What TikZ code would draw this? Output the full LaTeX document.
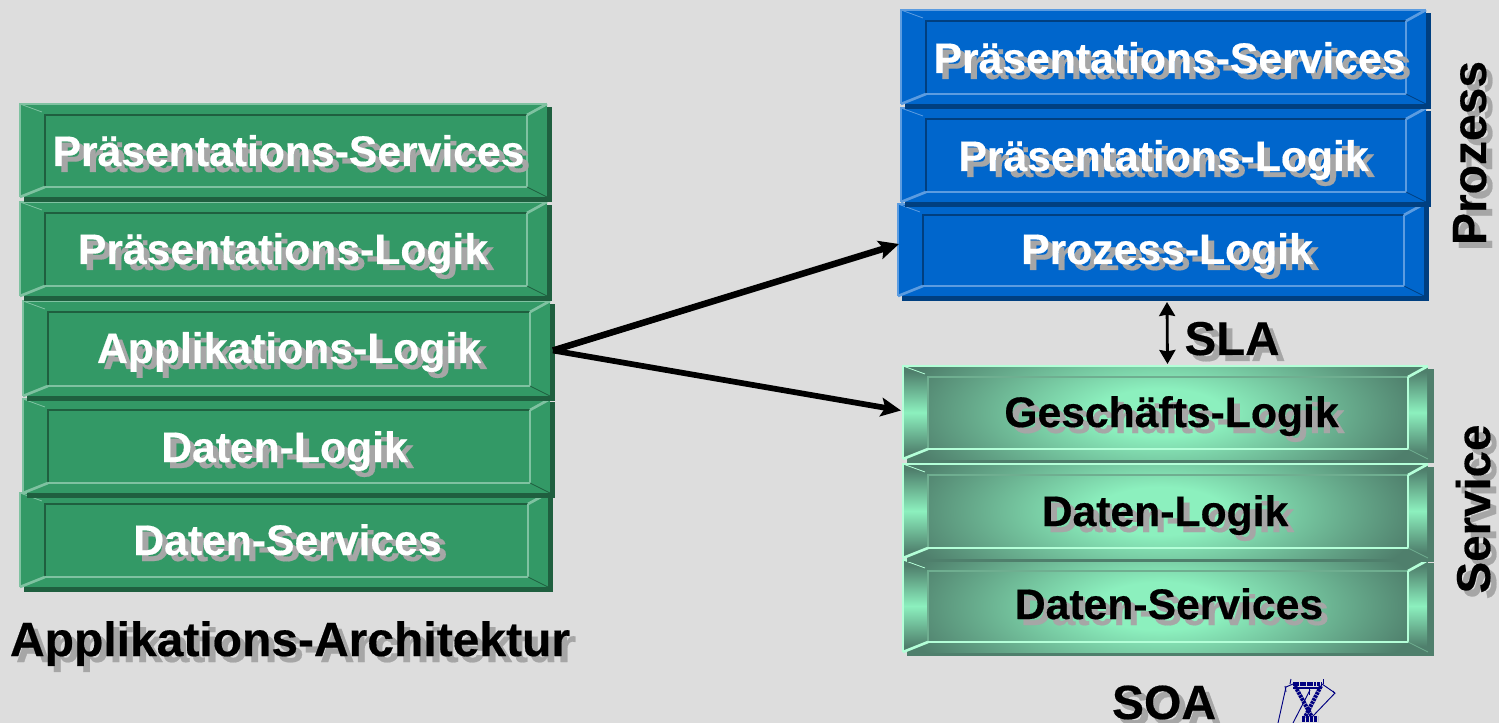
\documentclass[tikz,border=0pt]{standalone}
\usepackage{fontspec}
\setmainfont[BoldFeatures={FakeBold=0.4}]{Liberation Sans}
\usetikzlibrary{arrows.meta,calc}
\definecolor{bg}{HTML}{DDDDDD}
\definecolor{txtshadow}{HTML}{A6A6A6}
\definecolor{grnfill}{HTML}{339966}
\definecolor{grnlight}{HTML}{7FC2A1}
\definecolor{grndark}{HTML}{1F5F3F}
\definecolor{blufill}{HTML}{0066CC}
\definecolor{blulight}{HTML}{5C9CE0}
\definecolor{bludark}{HTML}{003F80}
\definecolor{mntfill}{HTML}{4F7F6C}
\definecolor{mntlight}{HTML}{B4FFD8}
\definecolor{mntdark}{HTML}{6FAE90}
\definecolor{mntglow}{HTML}{8CF0BE}
\definecolor{navytower}{HTML}{000080}
\pgfdeclareverticalshading{mntv}{100bp}{color(0bp)=(mntfill); color(28bp)=(mntfill); color(50bp)=(mntglow); color(72bp)=(mntfill); color(100bp)=(mntfill)}
\pgfdeclareradialshading{mntr}{\pgfpoint{0bp}{0bp}}{color(0bp)=(mntglow); color(6bp)=(mntglow); color(25bp)=(mntfill); color(50bp)=(mntfill)}
\tikzset{
  x=0.75pt,y=-0.75pt,
  face/.style={inner sep=0pt,outer sep=0pt,draw=none},
  mainarrow/.style={line width=#1,-{Stealth[length=15pt,width=14pt,inset=3pt]},black},
  slaarrow/.style={line width=2.1pt,{Stealth[length=10.5pt,width=12pt,inset=1pt]}-{Stealth[length=10.5pt,width=12pt,inset=1pt]},black},
  boxfont/.style={font=\fontsize{32pt}{36pt}\selectfont\bfseries},
  capfont/.style={font=\fontsize{36pt}{40pt}\selectfont\bfseries},
  midfont/.style={font=\fontsize{35.6pt}{40pt}\selectfont\bfseries},
  wire/.style={navytower,line width=0.7pt},
  steel/.style={navytower,line width=3pt,dash pattern=on 2pt off 0.6pt},
}
% lines of a bevelled box: #1-#4 face corners, #5 palette
\newcommand\bevlines[5]{%
  \pgfmathsetmacro\ixa{#1+25}\pgfmathsetmacro\iya{#2+11}%
  \pgfmathsetmacro\ixb{#3-20}\pgfmathsetmacro\iyb{#4-10}%
  \draw[#5dark,line width=2pt] (\ixa,\iyb) -- (\ixa,\iya) -- (\ixb,\iya);
  \draw[#5light,line width=2pt] (\ixa,\iyb) -- (\ixb,\iyb) -- (\ixb,\iya);
  \draw[#5light,line width=2pt] (#1,#4) -- (#1,#2) -- (#3,#2);
  \draw[#5light,line width=2pt] (#1,#4) -- (\ixa,\iyb);
  \draw[#5light,line width=2pt] (#3,#2) -- (\ixb,\iya);
  \draw[#5light,line width=0.6pt] (#1,#2) -- (\ixa-3,\iya-3);
  \draw[#5dark,line width=0.6pt] (#3,#4) -- (\ixb,\iyb);
}
% flat box: #1 name, #2-#5 face corners, #6 palette
\newcommand\bevbox[6]{%
  \pgfmathsetmacro\fw{(#4-#2)*0.75}\pgfmathsetmacro\fh{(#5-#3)*0.75}%
  \fill[#6dark] (#2+4,#3+3) rectangle (#4+4.5,#5+5);
  \node[face,fill=#6fill,minimum width=\fw pt,minimum height=\fh pt] (#1) at ({(#2+#4)/2},{(#3+#5)/2}) {};
  \bevlines{#2}{#3}{#4}{#5}{#6}
}
% glowing box
\newcommand\glowbox[5]{%
  \pgfmathsetmacro\fw{(#4-#2)*0.75}\pgfmathsetmacro\fh{(#5-#3)*0.75}%
  \fill[mntfill] (#2+4,#3+3) rectangle (#4+6,#5+4);
  \node[face,fill=mntfill,minimum width=\fw pt,minimum height=\fh pt] (#1) at ({(#2+#4)/2},{(#3+#5)/2}) {};
  \begin{scope}
    \clip (#2,#3) rectangle (#4,#5);
    \shade[shading=mntr] ({(#2+#4)/2-5},{(#3+#5)/2}) ellipse (265 and 100);
    \shade[shading=mntv] (#2+1,#3) -- (#2+25,#3+11) -- (#2+25,#5-10) -- (#2+1,#5) -- cycle;
    \shade[shading=mntv] (#4-1,#3) -- (#4-20,#3+11) -- (#4-20,#5-10) -- (#4-1,#5) -- cycle;
  \end{scope}
  \bevlines{#2}{#3}{#4}{#5}{mnt}
}
% label with drop shadow: #1 name, #2 x, #3 baseline y, #4 style, #5 colour, #6 text
\newcommand\shlabel[6]{%
  \node[#4,txtshadow,anchor=base,inner sep=0pt] (#1s) at (#2+6,#3+6) {#6};
  \node[#4,#5,anchor=base,inner sep=0pt] (#1) at (#2,#3) {#6};
}
\begin{document}
\begin{tikzpicture}
\useasboundingbox (0,0) rectangle (1499,723);
\fill[bg] (0,0) rectangle (1499,723);

% left stack
\bevbox{gfive}{20}{493}{548}{587}{grn}
\bevbox{gfour}{23}{399}{550}{493}{grn}
\bevbox{gthree}{23}{301}{550}{396}{grn}
\bevbox{gtwo}{20}{202}{547}{296}{grn}
\bevbox{gone}{20}{104}{547}{197}{grn}

% right upper stack
\bevbox{bthree}{898}{204}{1424}{296}{blu}
\bevbox{btwo}{901}{108}{1426}{202}{blu}
\bevbox{bone}{901}{10}{1426}{104}{blu}

% right lower stack
\glowbox{mthree}{903}{560}{1428}{652}
\glowbox{mtwo}{903}{464}{1428}{558}
\glowbox{mone}{903}{366}{1428}{459}

% connectors
\draw[mainarrow=4.9pt] ($(gthree.east)+(3,2)$) -- ($(bthree.west)+(1,-6)$);
\draw[mainarrow=4.3pt] ($(gthree.east)+(3,2)$) -- ($(mone.west)+(-2,-2)$);
\draw[slaarrow] ($(bthree.south)+(6,6)$) -- ($(mone.north)+(2,-2)$);

% box texts
\shlabel{tgone}{288.5}{166}{boxfont}{white}{Präsentations-Services}
\shlabel{tgtwo}{283}{264}{boxfont}{white}{Präsentations-Logik}
\shlabel{tgthree}{289}{363}{boxfont}{white}{Applikations-Logik}
\shlabel{tgfour}{284.5}{462}{boxfont}{white}{Daten-Logik}
\shlabel{tgfive}{287.5}{555}{boxfont}{white}{Daten-Services}
\shlabel{tbone}{1169.5}{73}{boxfont}{white}{Präsentations-Services}
\shlabel{tbtwo}{1163.5}{171}{boxfont}{white}{Präsentations-Logik}
\shlabel{tbthree}{1167}{264}{boxfont}{white}{Prozess-Logik}
\shlabel{tmone}{1171.5}{427}{boxfont}{black}{Geschäfts-Logik}
\shlabel{tmtwo}{1165}{526}{boxfont}{black}{Daten-Logik}
\shlabel{tmthree}{1169}{619}{boxfont}{black}{Daten-Services}

% captions
\shlabel{capleft}{290}{656}{capfont}{black}{Applikations-Architektur}
\shlabel{capsla}{1232}{355}{midfont}{black}{SLA}
\shlabel{capsoa}{1164}{719}{capfont}{black}{SOA}
\node[capfont,txtshadow,rotate=90,anchor=base,inner sep=0pt] (capprocs) at (1492,159) {Prozess};
\node[capfont,black,rotate=90,anchor=base,inner sep=0pt] (capproc) at (1486,153) {Prozess};
\node[midfont,txtshadow,rotate=90,anchor=base,inner sep=0pt] (capservs) at (1496,515) {Service};
\node[midfont,black,rotate=90,anchor=base,inner sep=0pt] (capserv) at (1490,509) {Service};

% pylon
\draw[steel] (1293,684) -- (1322,684);
\draw[navytower,line width=0.8pt] (1293,688) -- (1322,688);
\draw[steel] (1295,686) -- (1312,717);
\draw[steel] (1321,686) -- (1305,717);
\draw[navytower,line width=5pt,dash pattern=on 2.2pt off 0.8pt] (1302,719) -- (1318,719);
\draw[wire] (1286,687) -- (1293,684);
\draw[wire] (1322,684) -- (1335,693);
\draw[wire] (1286,687) -- (1278,723);
\draw[wire] (1285,686) -- (1286,692);
\draw[wire] (1310,690) -- (1293,723);
\draw[wire] (1335,693) -- (1313,716);
\draw[wire] (1333,691) -- (1335,694);
\draw[wire] (1291,679) -- (1290,684);
\draw[wire] (1323,679) -- (1323,684);
\draw[wire] (1309,689) -- (1309,695);
\end{tikzpicture}
\end{document}
